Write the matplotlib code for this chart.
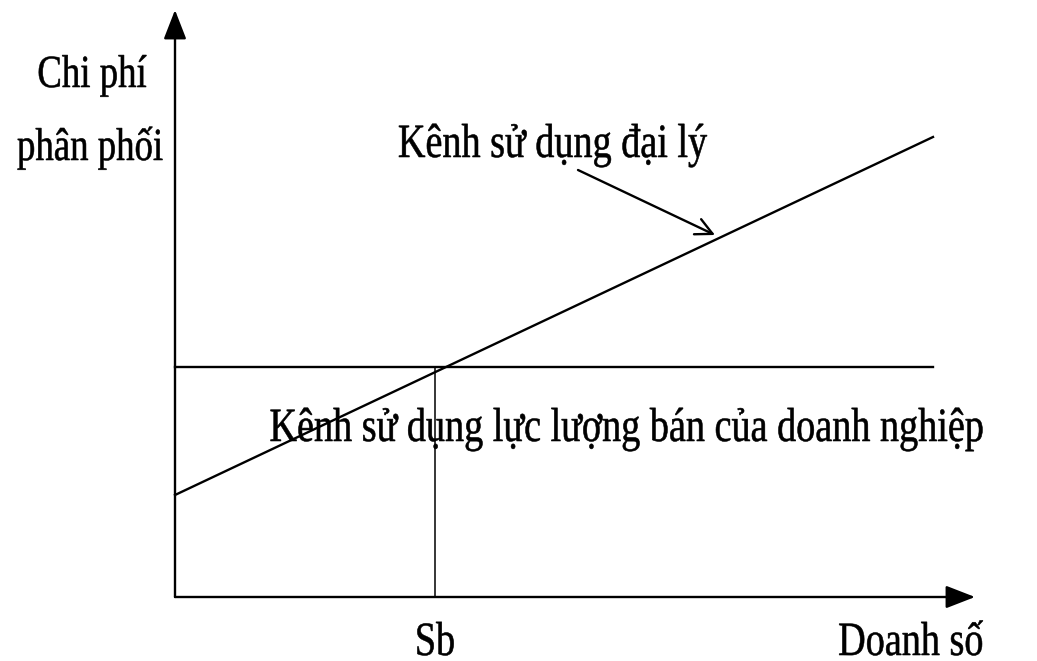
import matplotlib
matplotlib.use('Agg')
import matplotlib.pyplot as plt
from matplotlib import patheffects
from matplotlib.transforms import Affine2D

# values (units = pixels from the origin)
sales_end = 758
fixed_cost = 230          # own sales force, flat line
agent_cost = [102, 460]   # agent channel at sales 0 and sales_end
sb = 260                  # break-even sales
x_axis_len = 800
y_axis_len = 587

W, H = 1037, 661
FONT = ['Liberation Serif', 'DejaVu Serif']


class Stretch(patheffects.AbstractPathEffect):
    # the original text is a tall narrow Times, so stretch glyphs vertically
    def __init__(self, k, stroke=0.4):
        super().__init__()
        self.k = k
        self.stroke = stroke

    def draw_path(self, renderer, gc, tpath, affine, rgbFace=None):
        gc0 = renderer.new_gc()
        gc0.copy_properties(gc)
        gc0.set_linewidth(self.stroke)
        gc0.set_foreground(rgbFace)
        renderer.draw_path(gc0, tpath, Affine2D().scale(1, self.k) + affine, rgbFace)
        gc0.restore()


fig = plt.figure(figsize=(W / 100, H / 100), dpi=100)
ax = fig.add_axes([175 / W, (H - 597) / H, x_axis_len / W, y_axis_len / H])
ax.set_xlim(0, x_axis_len)
ax.set_ylim(0, y_axis_len)
ax.axis('off')

arrow_axis = dict(arrowstyle='-|>,head_length=0.9,head_width=0.35', lw=1.7,
                  color='black', shrinkA=0, shrinkB=0, mutation_scale=20)
ax.annotate('', xy=(x_axis_len, 0), xytext=(0, 0), arrowprops=arrow_axis, annotation_clip=False)
ax.annotate('', xy=(0, y_axis_len), xytext=(0, 0), arrowprops=arrow_axis, annotation_clip=False)

ax.plot([0, sales_end], [fixed_cost, fixed_cost], color='black', lw=1.7, clip_on=False)
ax.plot([0, sales_end], agent_cost, color='black', lw=1.7, clip_on=False)
ax.plot([sb, sb], [0, fixed_cost], color='black', lw=1.1, clip_on=False)

# pointer from the label to the agent line
ax.annotate('', xy=(540, 362), xytext=(403, 427),
            arrowprops=dict(arrowstyle='->,head_length=0.6,head_width=0.3', lw=1.7,
                            color='black', shrinkA=0, shrinkB=0, mutation_scale=20),
            annotation_clip=False)


def label(px, py, s, size=27.5):
    fig.text(px / W, 1 - py / H, s, ha='center', va='baseline', fontsize=size,
             family=FONT, color='black', path_effects=[Stretch(1.25)])


label(92, 87, 'Chi phí', 26.5)
label(90, 160, 'phân phối', 26.5)
label(553, 157, 'Kênh sử dụng đại lý')
label(628, 441, 'Kênh sử dụng lực lượng bán của doanh nghiệp')
label(435, 655, 'Sb')
label(911, 655, 'Doanh số')

fig.savefig('out.png', dpi=100, facecolor='white')
